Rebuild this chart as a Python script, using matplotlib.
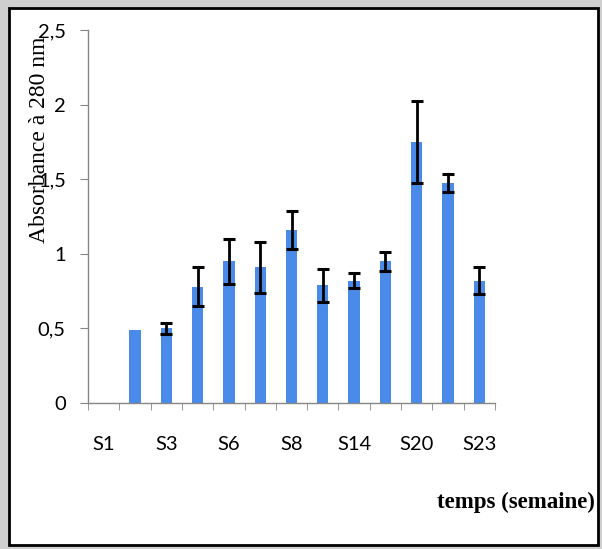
import matplotlib
matplotlib.use("Agg")
import matplotlib.pyplot as plt
import numpy as np
from matplotlib.patches import Rectangle

# Semaines (only every other label is shown on the axis)
semaines = ['S1', 'S2', 'S3', 'S5', 'S6', 'S7', 'S8', 'S12', 'S14', 'S18', 'S20', 'S22', 'S23']
absorbance = [0.0, 0.49, 0.50, 0.78, 0.95, 0.91, 1.16, 0.79, 0.82, 0.95, 1.75, 1.475, 0.82]
erreur = [0.0, 0.0, 0.035, 0.13, 0.15, 0.17, 0.13, 0.11, 0.05, 0.065, 0.275, 0.06, 0.09]
labels_visibles = ['S1', 'S3', 'S6', 'S8', 'S14', 'S20', 'S23']

fig = plt.figure(figsize=(6.02, 5.49), dpi=100)
fig.patch.set_facecolor('#cfcfcf')
# white panel with black frame
fig.patches.append(Rectangle((9 / 602, 4 / 549), 589 / 602, 537 / 549,
                             transform=fig.transFigure, facecolor='white',
                             edgecolor='black', linewidth=2, zorder=-10))

ax = fig.add_axes([88 / 602, 1 - 403 / 549, 407 / 602, 373 / 549])
ax.set_facecolor('none')

x = np.arange(len(semaines))
ax.bar(x, absorbance, width=0.36, color='#4A8BEA', zorder=2)
ax.errorbar(x[2:], absorbance[2:], yerr=erreur[2:], fmt='none', ecolor='black',
            elinewidth=2, capsize=4.5, capthick=2.2, zorder=3)

ax.set_xlim(-0.5, len(semaines) - 0.5)
ax.set_ylim(0, 2.5)

ax.set_yticks([0, 0.5, 1, 1.5, 2, 2.5])
ax.set_yticklabels(['0', '0,5', '1', '1,5', '2', '2,5'], fontfamily='Lato', fontsize=14.5)

ax.set_xticks([i for i, s in enumerate(semaines) if s in labels_visibles])
ax.set_xticklabels(labels_visibles, fontfamily='Lato', fontsize=14.5)
ax.set_xticks(np.arange(-0.5, len(semaines)), minor=True)
ax.tick_params(axis='x', which='major', length=0, pad=24)
ax.tick_params(axis='x', which='minor', length=5, color='#868686', direction='out')
ax.tick_params(axis='y', length=6, color='#868686', pad=10)

for s in ['top', 'right']:
    ax.spines[s].set_visible(False)
for s in ['left', 'bottom']:
    ax.spines[s].set_color('#868686')
    ax.spines[s].set_linewidth(1)

fig.text(40 / 602, 1 - 140 / 549, 'Absorbance à 280 nm', rotation=90,
         ha='center', va='center', fontfamily='Liberation Serif', fontsize=17)
fig.text(595 / 602, 1 - 502 / 549, 'temps (semaine)', ha='right', va='center',
         fontfamily='Liberation Serif', fontsize=16.5, fontweight='bold')

fig.savefig('out.png', dpi=100, facecolor=fig.get_facecolor())
